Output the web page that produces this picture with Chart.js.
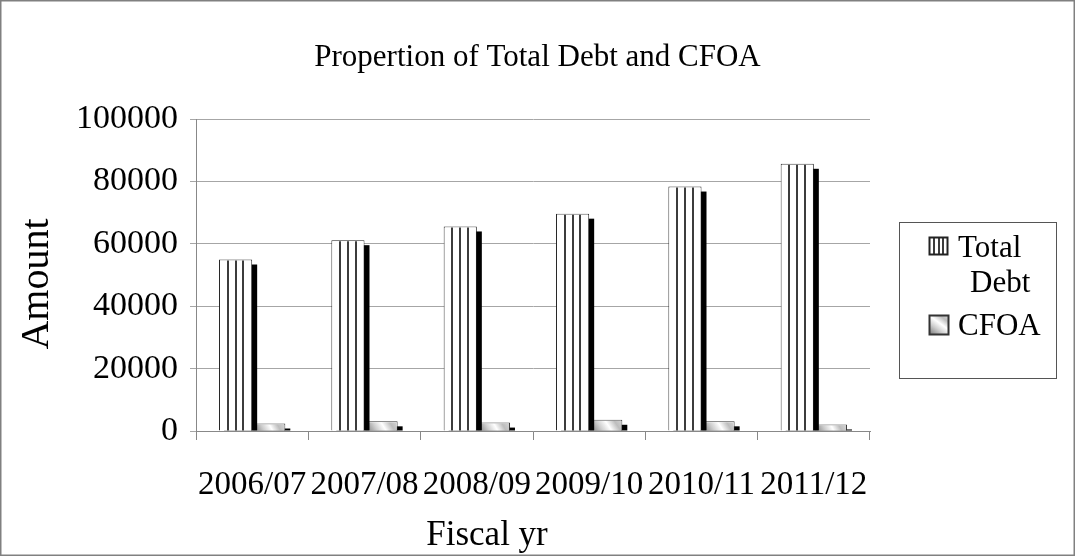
<!DOCTYPE html>
<html>
<head>
<meta charset="utf-8">
<script src="https://cdn.jsdelivr.net/npm/chart.js@4.4.1/dist/chart.umd.min.js"></script>
<style>
  html, body { margin: 0; padding: 0; background: #fff; }
  #c { display: block; }
</style>
</head>
<body>
<canvas id="c" width="1075" height="556"></canvas>
<script>
// Fiscal years on the category axis
const fiscalYears = ['2006/07', '2007/08', '2008/09', '2009/10', '2010/11', '2011/12'];
// Series values
const totalDebt = [55000, 61200, 65600, 69700, 78400, 85700];
const cfoa = [2400, 3100, 2700, 3600, 3100, 2100];
// Value axis ticks
const amountTicks = [0, 20000, 40000, 60000, 80000, 100000];
// Legend text, wrapped as shown in the legend box
const legendLines = [['Total', 'Debt'], ['CFOA']];
// Axis titles
const xAxisTitle = 'Fiscal yr';
const yAxisTitle = 'Amount';

const SERIF = "'Liberation Serif', 'Times New Roman', serif";

function stripeFill(c, l, top, w, bottom) {
  c.fillStyle = '#ffffff';
  c.fillRect(l, top, w, bottom - top);
  c.strokeStyle = '#3c3c3c';
  c.lineWidth = 2;
  for (let k = 1; k < 4; k++) {
    const xx = Math.round(l + w * k / 4);
    c.beginPath();
    c.moveTo(xx, top);
    c.lineTo(xx, bottom);
    c.stroke();
  }
}

function gradientFill(c, l, top, w, bottom) {
  const g = c.createLinearGradient(l, bottom, l + w, top - w * 0.35);
  g.addColorStop(0, '#7c7c7c');
  g.addColorStop(0.28, '#cfcfcf');
  g.addColorStop(0.48, '#ffffff');
  g.addColorStop(0.68, '#bdbdbd');
  g.addColorStop(1, '#e6e6e6');
  c.fillStyle = g;
  c.fillRect(l, top, w, bottom - top);
}

function clipToArea(chart) {
  const a = chart.chartArea;
  const c = chart.ctx;
  c.beginPath();
  c.rect(a.left, a.top, a.right - a.left, a.bottom - a.top);
  c.clip();
}

// Offset black shadow behind each bar, then the fill texture on top of it
const barLook = {
  id: 'barLook',
  beforeDatasetDraw(chart, args) {
    const c = chart.ctx;
    c.save();
    clipToArea(chart);
    c.fillStyle = '#000';
    args.meta.data.forEach(el => {
      const p = el.getProps(['x', 'y', 'base', 'width'], true);
      const l = p.x - p.width / 2;
      c.fillRect(l + 5, p.y + 5, p.width, p.base - p.y - 5);
    });
    c.restore();
  },
  afterDatasetDraw(chart, args) {
    const c = chart.ctx;
    c.save();
    clipToArea(chart);
    args.meta.data.forEach(el => {
      const p = el.getProps(['x', 'y', 'base', 'width'], true);
      const l = p.x - p.width / 2 + 1;
      const w = p.width - 2;
      const top = p.y + 1;
      if (args.index === 0) stripeFill(c, l, top, w, p.base);
      else gradientFill(c, l, top, w, p.base);
    });
    c.restore();
  }
};

// Axis titles, legend box on the right and the frame around the chart
const decorations = {
  id: 'decorations',
  afterDraw(chart) {
    const c = chart.ctx;
    c.save();
    c.fillStyle = '#000';
    c.textAlign = 'center';
    c.textBaseline = 'middle';
    c.font = '35px ' + SERIF;
    c.fillText(xAxisTitle, 487, 536);
    c.save();
    c.translate(37, 284);
    c.rotate(-Math.PI / 2);
    c.font = '40px ' + SERIF;
    c.fillText(yAxisTitle, 0, 0);
    c.restore();

    c.strokeStyle = '#555';
    c.lineWidth = 1;
    c.strokeRect(899.5, 222.5, 157, 156);

    stripeFill(c, 930, 238, 17, 254);
    c.strokeStyle = '#222';
    c.strokeRect(929.5, 237.5, 18, 17);

    gradientFill(c, 930, 316, 18, 334);
    c.strokeStyle = '#333';
    c.strokeRect(929.5, 315.5, 19, 19);

    c.fillStyle = '#000';
    c.font = '31px ' + SERIF;
    c.textBaseline = 'alphabetic';
    c.textAlign = 'left';
    c.fillText(legendLines[0][0], 958, 257);
    c.fillText(legendLines[0][1], 970, 292);
    c.fillText(legendLines[1][0], 958, 335);

    c.strokeStyle = '#808080';
    c.strokeRect(0.5, 0.5, 1074, 555);
    c.restore();
  }
};

new Chart(document.getElementById('c'), {
  type: 'bar',
  data: {
    labels: fiscalYears,
    datasets: [
      {
        label: 'Total Debt',
        data: totalDebt,
        backgroundColor: '#ffffff',
        borderColor: '#222222',
        borderWidth: 1,
        barPercentage: 1,
        categoryPercentage: 0.59,
        clip: 0
      },
      {
        label: 'CFOA',
        data: cfoa,
        backgroundColor: '#ffffff',
        borderColor: '#333333',
        borderWidth: 1,
        barPercentage: 1,
        categoryPercentage: 0.59,
        clip: 0
      }
    ]
  },
  options: {
    responsive: false,
    animation: false,
    layout: { padding: 0 },
    plugins: {
      legend: { display: false },
      tooltip: { enabled: false },
      title: {
        display: true,
        text: 'Propertion of Total Debt and CFOA',
        color: '#000',
        font: { family: SERIF, size: 31, weight: 'normal', lineHeight: 1.2 },
        padding: { top: 39, bottom: 43 }
      }
    },
    scales: {
      x: {
        grid: { drawOnChartArea: false, drawTicks: true, tickLength: 9, color: '#888', offset: true },
        border: { color: '#888', z: 1 },
        ticks: {
          color: '#000',
          font: { family: SERIF, size: 33 },
          padding: 26,
          maxRotation: 0,
          autoSkip: false
        },
        afterFit(s) { s.height = 125; }
      },
      y: {
        min: 0,
        max: 100000,
        afterBuildTicks(s) { s.ticks = amountTicks.map(v => ({ value: v })); },
        grid: { color: '#a6a6a6', tickLength: 6 },
        border: { color: '#888' },
        ticks: {
          color: '#000',
          font: { family: SERIF, size: 34 },
          padding: 12,
          callback: v => String(v)
        },
        afterFit(s) { s.width = 196; }
      },
      // keeps the right-hand strip free for the legend box
      legendSpace: {
        type: 'linear',
        position: 'right',
        display: true,
        grid: { display: false },
        border: { display: false },
        ticks: { display: false },
        afterFit(s) { s.width = 205; }
      }
    }
  },
  plugins: [barLook, decorations]
});
</script>
</body>
</html>
